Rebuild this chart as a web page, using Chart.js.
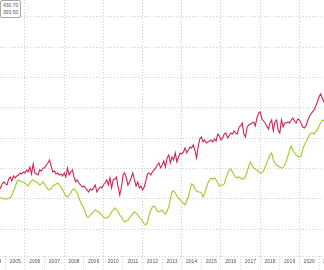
<!DOCTYPE html>
<html>
<head>
<meta charset="utf-8">
<script src="https://cdn.jsdelivr.net/npm/chart.js@4"></script>
<style>
  html, body { margin: 0; padding: 0; background: #fff; }
  #wrap { position: relative; width: 324px; height: 270px; }
  #tag {
    position: absolute; left: 0; top: 0;
    border: 1px solid #a8a8a8; border-radius: 2px; background: #fff;
    font: 5px "Liberation Sans", sans-serif; line-height: 7px; color: #555;
    padding: 1px 2px; text-align: right;
  }
</style>
</head>
<body>
<div id="wrap">
  <canvas id="chart"></canvas>
  <div id="tag">430.70<br>393.50</div>
</div>
<script>
// monthly series, first point Sep 2004
const startYear = 2004 + 8 / 12;

const redValues = [
  264.6, 267.9, 274.5, 277.8, 274.5, 272.8, 282.7, 286.0, 279.4, 287.7,
  284.4, 287.7, 289.3, 292.6, 291.0, 294.3, 292.6, 297.6, 294.3, 302.5,
  291.0, 307.5, 292.6, 291.0, 289.3, 297.6, 295.9, 300.9, 300.9, 305.8,
  309.1, 314.1, 304.2, 294.3, 295.9, 291.0, 292.6, 289.3, 291.0, 287.7,
  292.6, 286.0, 300.9, 289.3, 294.3, 297.6, 286.0, 277.8, 281.1, 276.1,
  272.8, 269.5, 271.2, 267.9, 264.6, 261.3, 266.2, 264.6, 267.9, 272.8,
  261.3, 266.2, 269.5, 267.9, 272.8, 276.1, 281.1, 272.8, 284.4, 267.9,
  281.1, 282.7, 286.0, 269.5, 256.3, 267.9, 289.3, 292.6, 284.4, 272.8,
  277.8, 284.4, 292.6, 281.1, 271.2, 277.8, 267.9, 271.2, 264.6, 269.5,
  279.4, 291.0, 292.6, 289.3, 294.3, 297.6, 300.9, 305.8, 309.1, 300.9,
  305.8, 312.4, 302.5, 317.4, 322.3, 309.1, 319.0, 314.1, 325.6, 310.8,
  319.0, 325.6, 324.0, 327.3, 333.9, 325.6, 330.6, 335.5, 333.9, 338.8,
  330.6, 317.4, 335.5, 348.7, 352.0, 343.8, 347.1, 342.1, 343.8, 345.4,
  347.1, 343.8, 348.7, 345.4, 357.0, 353.7, 347.1, 350.4, 357.0, 358.6,
  350.4, 353.7, 358.6, 357.0, 361.9, 358.6, 357.0, 368.5, 370.2, 375.1,
  357.0, 352.0, 368.5, 371.8, 373.5, 375.1, 376.8, 370.2, 383.4, 391.6,
  393.3, 381.7, 378.4, 375.1, 370.2, 365.2, 375.1, 380.1, 361.9, 376.8,
  380.1, 363.6, 358.6, 380.1, 368.5, 375.1, 375.1, 376.8, 375.1, 380.1,
  383.4, 378.4, 375.1, 381.7, 380.1, 375.1, 368.5, 366.9, 370.2, 378.4,
  385.0, 390.0, 393.3, 396.6, 403.2, 409.8, 418.0, 423.0, 416.4, 409.8,
  406.5
];

const greenValues = [
  251.4, 251.4, 251.4, 249.7, 249.7, 249.7, 251.4, 251.4, 256.3, 262.9,
  269.5, 277.8, 281.1, 279.4, 277.8, 277.8, 276.1, 272.8, 271.2, 276.1,
  279.4, 281.1, 279.4, 277.8, 276.1, 272.8, 274.5, 277.8, 274.5, 269.5,
  266.2, 264.6, 266.2, 271.2, 272.8, 274.5, 276.1, 272.8, 269.5, 264.6,
  259.6, 254.7, 253.0, 256.3, 259.6, 264.6, 266.2, 262.9, 259.6, 251.4,
  244.8, 239.8, 234.9, 226.6, 220.0, 220.0, 223.3, 226.6, 228.3, 231.6,
  229.9, 228.3, 226.6, 223.3, 220.0, 218.3, 218.3, 220.0, 223.3, 228.3,
  231.6, 234.9, 231.6, 228.3, 223.3, 220.0, 215.0, 211.8, 213.4, 215.0,
  218.3, 221.7, 225.0, 228.3, 226.6, 223.3, 220.0, 216.7, 213.4, 208.5,
  206.8, 211.8, 223.3, 231.6, 236.5, 238.2, 234.9, 229.9, 228.3, 229.9,
  231.6, 226.6, 225.0, 229.9, 236.5, 249.7, 261.3, 262.9, 259.6, 254.7,
  251.4, 248.1, 244.8, 243.1, 239.8, 246.4, 253.0, 264.6, 274.5, 272.8,
  266.2, 262.9, 261.3, 261.3, 259.6, 253.0, 259.6, 267.9, 276.1, 281.1,
  284.4, 282.7, 284.4, 281.1, 276.1, 271.2, 272.8, 272.8, 274.5, 284.4,
  291.0, 297.6, 299.2, 294.3, 289.3, 286.0, 284.4, 286.0, 284.4, 282.7,
  282.7, 287.7, 294.3, 304.2, 310.8, 304.2, 300.9, 299.2, 297.6, 294.3,
  292.6, 292.6, 295.9, 302.5, 309.1, 315.7, 322.3, 325.6, 314.1, 309.1,
  305.8, 304.2, 302.5, 300.9, 300.9, 305.8, 312.4, 320.7, 330.6, 337.2,
  328.9, 325.6, 322.3, 320.7, 319.0, 320.7, 330.6, 338.8, 343.8, 348.7,
  355.3, 358.6, 358.6, 357.0, 360.3, 363.6, 370.2, 375.1, 378.4, 380.1,
  383.4
];

const yearTicks = [2004, 2005, 2006, 2007, 2008, 2009, 2010, 2011, 2012,
  2013, 2014, 2015, 2016, 2017, 2018, 2019, 2020, 2021];
const valueTicks = [155.6, 200, 250, 300, 350, 400, 450, 500, 550];

const xMin = 2004.7245, xMax = 2021.2551;
const yMin = 155.6, yMax = 578.05;

function toPoints(values) {
  return values.map((v, i) => ({ x: startYear + i / 12, y: v }));
}

const gridGray = '#cfcfcf';

new Chart(document.getElementById('chart'), {
  type: 'line',
  data: {
    datasets: [{
      label: 'B',
      data: toPoints(greenValues),
      borderColor: '#9ccc2c',
      borderWidth: 1.1,
      pointRadius: 0,
      tension: 0
    }, {
      label: 'A',
      data: toPoints(redValues),
      borderColor: '#c8284e',
      borderWidth: 1.1,
      pointRadius: 0,
      tension: 0
    }]
  },
  options: {
    responsive: true,
    maintainAspectRatio: false,
    animation: false,
    layout: { padding: 0, autoPadding: false },
    plugins: {
      legend: { display: false },
      tooltip: { enabled: false }
    },
    scales: {
      x: {
        type: 'linear',
        min: xMin,
        max: xMax,
        afterBuildTicks: scale => { scale.ticks = yearTicks.map(v => ({ value: v })); },
        afterFit: scale => {
          scale.height = 14;
          scale.paddingLeft = 0;
          scale.paddingRight = 0;
        },
        ticks: {
          autoSkip: false,
          maxRotation: 0,
          labelOffset: 9.8,
          padding: -11,
          color: '#555',
          font: { family: 'Liberation Sans', size: 5 },
          callback: v => String(v)
        },
        grid: {
          color: ctx => (ctx.tick && ctx.tick.value % 2 === 0) ? gridGray : 'rgba(0,0,0,0)',
          tickColor: gridGray,
          tickLength: 14,
          tickBorderDash: [1, 2],
          lineWidth: 1
        },
        border: { display: false, dash: [1, 2] }
      },
      y: {
        min: yMin,
        max: yMax,
        afterBuildTicks: scale => { scale.ticks = valueTicks.map(v => ({ value: v })); },
        afterFit: scale => {
          scale.width = 0;
          scale.paddingTop = 0;
          scale.paddingBottom = 0;
        },
        ticks: { display: false },
        grid: { color: gridGray, drawTicks: false, lineWidth: 1 },
        border: { display: false, dash: [1, 2] }
      }
    }
  }
});
</script>
</body>
</html>
